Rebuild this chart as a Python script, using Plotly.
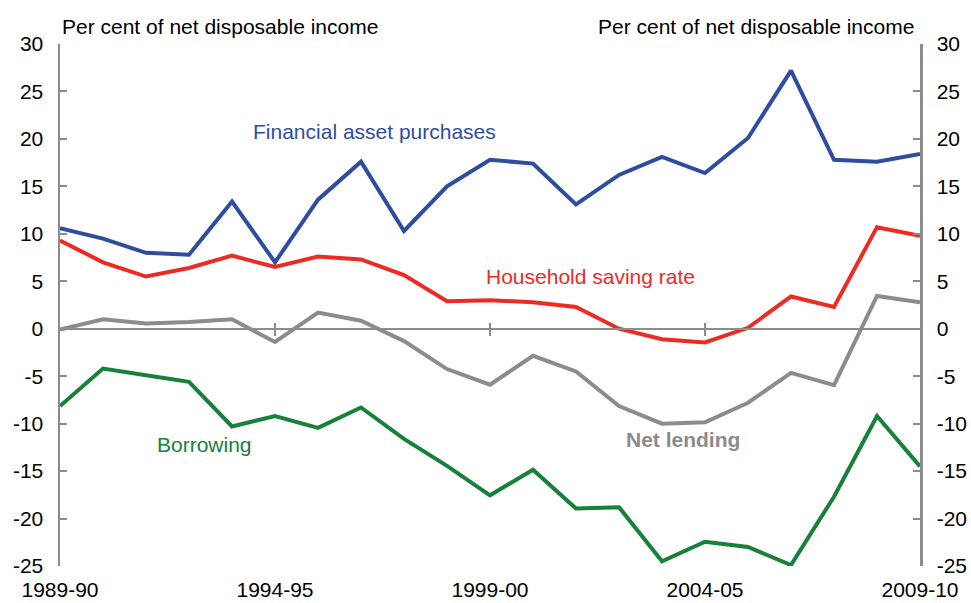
import plotly.graph_objects as go

years = ["1989-90","1990-91","1991-92","1992-93","1993-94","1994-95","1995-96","1996-97",
         "1997-98","1998-99","1999-00","2000-01","2001-02","2002-03","2003-04","2004-05",
         "2005-06","2006-07","2007-08","2008-09","2009-10"]
xpos = list(range(len(years)))

financial_assets = [10.6, 9.5, 8.0, 7.8, 13.4, 7.0, 13.6, 17.6, 10.3, 15.0, 17.8,
                    17.4, 13.1, 16.2, 18.1, 16.4, 20.1, 27.2, 17.8, 17.6, 18.4]
saving_rate = [9.3, 7.0, 5.5, 6.4, 7.7, 6.5, 7.6, 7.3, 5.65, 2.9, 3.0,
               2.8, 2.3, 0.0, -1.1, -1.45, 0.1, 3.4, 2.3, 10.7, 9.8]
net_lending = [-0.1, 1.0, 0.55, 0.7, 1.0, -1.4, 1.7, 0.85, -1.3, -4.25, -5.9,
               -2.85, -4.5, -8.15, -10.0, -9.85, -7.8, -4.65, -5.95, 3.45, 2.8]
borrowing = [-8.15, -4.2, -4.9, -5.6, -10.3, -9.2, -10.45, -8.3, -11.6, -14.45, -17.55,
             -14.85, -18.95, -18.8, -24.5, -22.45, -23.0, -24.9, -17.7, -9.2, -14.5]

tick_idx = [0, 5, 10, 15, 20]
tick_text = [years[i] for i in tick_idx]
inner_ticks = [5, 10, 15]
y_ticks = [-25, -20, -15, -10, -5, 0, 5, 10, 15, 20, 25, 30]
y_tick_text = [str(v) for v in y_ticks]

BLUE = "#2f4d9f"
RED = "#ee2a24"
GREY = "#8c8c8c"
GREEN = "#17803b"
AXIS = "#8c8c8c"
FONT = "Liberation Sans, Arial, sans-serif"
FS = 21

fig = go.Figure()
for vals, col in [(net_lending, GREY), (borrowing, GREEN), (saving_rate, RED), (financial_assets, BLUE)]:
    fig.add_trace(go.Scatter(x=xpos, y=vals, mode="lines", line=dict(color=col, width=4),
                             showlegend=False, hoverinfo="skip"))

yr = [-25, 30]
zero_pos = (0 - yr[0]) / (yr[1] - yr[0])

fig.update_layout(
    width=971, height=603,
    margin=dict(l=60, r=51, t=44, b=37, autoexpand=False),
    plot_bgcolor="white", paper_bgcolor="white",
    font=dict(family=FONT, size=FS, color="black"),
    xaxis=dict(range=[0, 20], tickvals=tick_idx, ticktext=tick_text, showgrid=False,
               zeroline=False, showline=False, ticks="", ticklabelstandoff=9,
               automargin=False, tickfont=dict(size=FS)),
    xaxis2=dict(range=[0, 20], overlaying="x", anchor="free", position=zero_pos,
                tickvals=inner_ticks, ticks="outside", ticklen=6, tickwidth=2, tickcolor=AXIS,
                showticklabels=False, showline=True, linecolor=AXIS, linewidth=2.5,
                showgrid=False, zeroline=False, automargin=False),
    xaxis3=dict(range=[0, 20], overlaying="x", anchor="free", position=zero_pos,
                tickvals=inner_ticks, ticks="inside", ticklen=6, tickwidth=2, tickcolor=AXIS,
                showticklabels=False, showline=False, showgrid=False, zeroline=False,
                automargin=False),
    yaxis=dict(range=yr, tickvals=y_ticks, ticktext=y_tick_text, showgrid=False, zeroline=False,
               showline=True, linecolor=AXIS, linewidth=2.5, ticks="inside", ticklen=7,
               tickwidth=2, tickcolor=AXIS, ticklabelstandoff=10, automargin=False,
               tickfont=dict(size=FS)),
    yaxis2=dict(range=yr, tickvals=y_ticks, ticktext=y_tick_text, overlaying="y", side="right",
                anchor="x", showgrid=False, zeroline=False, showline=True, linecolor=AXIS,
                linewidth=2.5, ticks="inside", ticklen=7, tickwidth=2, tickcolor=AXIS,
                ticklabelstandoff=10, automargin=False, tickfont=dict(size=FS)),
)

fig.add_trace(go.Scatter(x=[None], y=[None], xaxis="x2", showlegend=False, hoverinfo="skip"))
fig.add_trace(go.Scatter(x=[None], y=[None], xaxis="x3", showlegend=False, hoverinfo="skip"))
fig.add_trace(go.Scatter(x=[None], y=[None], yaxis="y2", showlegend=False, hoverinfo="skip"))

fig.add_annotation(text="Per cent of net disposable income", x=0, xref="paper", xanchor="left",
                   y=1, yref="paper", yanchor="bottom", yshift=4, showarrow=False,
                   font=dict(size=FS, color="black", family=FONT))
fig.add_annotation(text="Per cent of net disposable income", x=1, xref="paper", xanchor="right",
                   y=1, yref="paper", yanchor="bottom", yshift=4, xshift=-4, showarrow=False,
                   font=dict(size=FS, color="black", family=FONT))

labels = [
    ("Financial asset purchases", 7.31, 20.8, BLUE, False),
    ("Household saving rate", 12.34, 5.55, RED, False),
    ("Net lending", 14.49, -11.64, GREY, True),
    ("Borrowing", 3.35, -12.17, GREEN, False),
]
for text, x, y, col, bold in labels:
    fig.add_annotation(text=(f"<b>{text}</b>" if bold else text), x=x, y=y, xref="x", yref="y",
                       showarrow=False, xanchor="center", yanchor="middle",
                       font=dict(size=FS, color=col, family=FONT))

fig.write_html(
    "out.html",
    config={"displayModeBar": False, "staticPlot": True},
    post_script="document.body.style.margin='0';document.body.style.overflow='hidden';",
)
